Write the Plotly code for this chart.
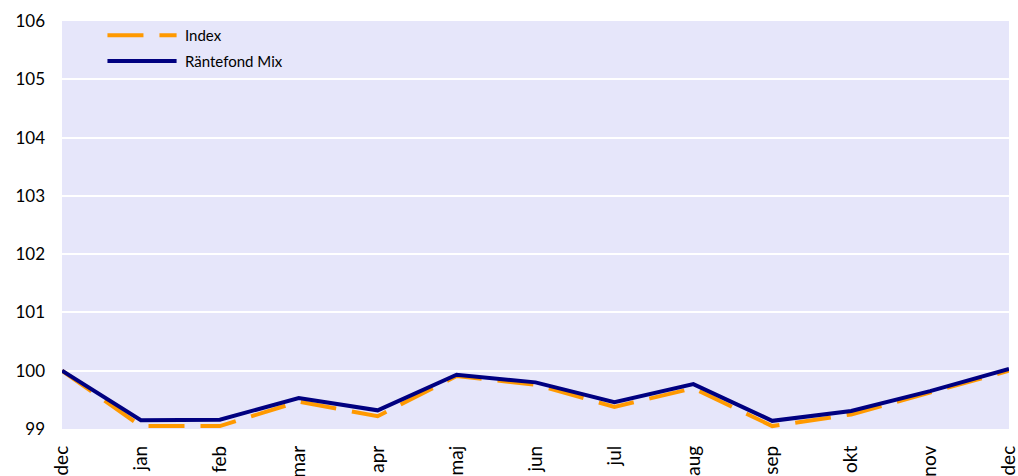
import plotly.graph_objects as go

# Monthly index values, December to December
months = ["dec", "jan", "feb", "mar", "apr", "maj", "jun", "jul", "aug", "sep", "okt", "nov", "dec"]
index_values = [100.0, 99.05, 99.05, 99.47, 99.22, 99.91, 99.76, 99.38, 99.70, 99.05, 99.25, 99.63, 100.0]
fund_values = [100.0, 99.15, 99.16, 99.53, 99.32, 99.93, 99.80, 99.46, 99.77, 99.14, 99.31, 99.65, 100.03]
y_ticks = [99, 100, 101, 102, 103, 104, 105, 106]

ORANGE = "#FF9900"
NAVY = "#000080"
FONT = "Lato, Open Sans, sans-serif"

x_pos = list(range(len(months)))

fig = go.Figure()
fig.add_trace(go.Scatter(
    x=x_pos, y=index_values, mode="lines", name="Index",
    line=dict(color=ORANGE, width=4, dash="36px,16px"),
    showlegend=False,
))
fig.add_trace(go.Scatter(
    x=x_pos, y=fund_values, mode="lines", name="Räntefond Mix",
    line=dict(color=NAVY, width=4),
    showlegend=False,
))

# Legend drawn with wide line samples
legend_items = [("Index", ORANGE, "36px,16px", 0.965), ("Räntefond Mix", NAVY, "solid", 0.902)]
for label, color, dash, ypos in legend_items:
    fig.add_shape(type="line", xref="paper", yref="paper",
                  x0=0.048, x1=0.121, y0=ypos, y1=ypos,
                  line=dict(color=color, width=4, dash=dash))
    fig.add_annotation(xref="paper", yref="paper", x=0.128, y=ypos,
                       text=label, showarrow=False, xanchor="left", yanchor="middle",
                       font=dict(family=FONT, size=15, color="#000000"))

fig.update_layout(
    width=1018, height=476,
    margin=dict(l=62, r=9, t=21, b=47),
    paper_bgcolor="#FFFFFF",
    plot_bgcolor="#E6E6FA",
    font=dict(family=FONT, size=16, color="#000000"),
)
fig.update_xaxes(
    tickmode="array", tickvals=x_pos, ticktext=months,
    range=[0, len(months) - 1], tickangle=-90,
    showgrid=False, zeroline=False, showline=False, ticks="",
    tickfont=dict(size=19), ticklabelstandoff=12,
    ticklabeloverflow="allow", automargin=False,
)
fig.update_yaxes(
    range=[99, 106], tickvals=y_ticks,
    showgrid=True, gridcolor="#FFFFFF", gridwidth=2,
    zeroline=False, showline=False, ticks="",
    tickfont=dict(size=17), ticklabelstandoff=16, automargin=False,
)

fig.write_html("out.html")
